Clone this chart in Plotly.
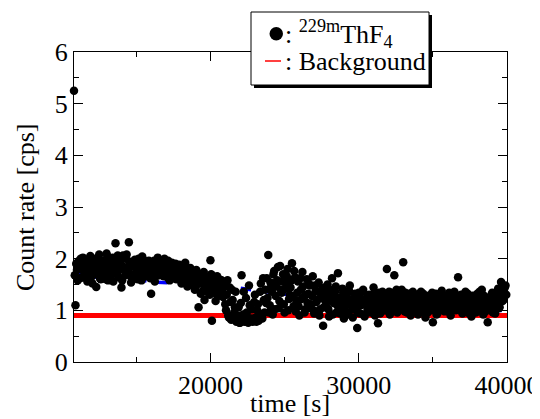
import plotly.graph_objects as go

# ---- data ----
time_s = [
    10800, 10900, 11000, 11100, 11200, 11300, 11400, 11500, 11600, 11700,
    11800, 11900, 12000, 12100, 12200, 12300, 12400, 12500, 12600, 12700,
    12800, 12900, 13000, 13100, 13200, 13300, 13400, 13500, 13600, 13700,
    13800, 13900, 14000, 14100, 14200, 14300, 14400, 14500, 14600, 14700,
    14800, 14900, 15000, 15100, 15200, 15300, 15400, 15500, 15600, 15700,
    15800, 15900, 16000, 16100, 16200, 16300, 16400, 16500, 16600, 16700,
    16800, 16900, 17000, 17100, 17200, 17300, 17400, 17500, 17600, 17700,
    17800, 17900, 18000, 18100, 18200, 18300, 18400, 18500, 18600, 18700,
    18800, 18900, 19000, 19100, 19200, 19300, 19400, 19500, 19600, 19700,
    19800, 19900, 20000, 20100, 20200, 20300, 20400, 20500, 20600, 20700,
    20800, 20900, 21000, 21100, 21200, 21300, 21400, 21500, 21600, 21700,
    21800, 21900, 22000, 22100, 22200, 22300, 22400, 22500, 22600, 22700,
    22800, 22900, 23000, 23100, 23200, 23300, 23400, 23500, 23600, 23700,
    23800, 23900, 24000, 24100, 24200, 24300, 24400, 24500, 24600, 24700,
    24800, 24900, 25000, 25100, 25200, 25300, 25400, 25500, 25600, 25700,
    25800, 25900, 26000, 26100, 26200, 26300, 26400, 26500, 26600, 26700,
    26800, 26900, 27000, 27100, 27200, 27300, 27400, 27500, 27600, 27700,
    27800, 27900, 28000, 28100, 28200, 28300, 28400, 28500, 28600, 28700,
    28800, 28900, 29000, 29100, 29200, 29300, 29400, 29500, 29600, 29700,
    29800, 29900, 30000, 30100, 30200, 30300, 30400, 30500, 30600, 30700,
    30800, 30900, 31000, 31100, 31200, 31300, 31400, 31500, 31600, 31700,
    31800, 31900, 32000, 32100, 32200, 32300, 32400, 32500, 32600, 32700,
    32800, 32900, 33000, 33100, 33200, 33300, 33400, 33500, 33600, 33700,
    33800, 33900, 34000, 34100, 34200, 34300, 34400, 34500, 34600, 34700,
    34800, 34900, 35000, 35100, 35200, 35300, 35400, 35500, 35600, 35700,
    35800, 35900, 36000, 36100, 36200, 36300, 36400, 36500, 36600, 36700,
    36800, 36900, 37000, 37100, 37200, 37300, 37400, 37500, 37600, 37700,
    37800, 37900, 38000, 38100, 38200, 38300, 38400, 38500, 38600, 38700,
    38800, 38900, 39000, 39100, 39200, 39300, 39400, 39500, 39600, 39700,
    39800, 39900,
]

count_rate = [
    5.25, 1.10, 1.78, 1.95, 1.62, 1.88, 2.02, 1.70, 1.92, 1.56,
    1.84, 2.05, 1.66, 1.98, 1.74, 1.45, 1.90, 2.08, 1.60, 1.82,
    1.72, 1.96, 2.10, 1.58, 1.86, 1.68, 2.02, 1.76, 2.30, 1.92,
    1.64, 1.88, 1.44, 2.06, 1.80, 2.00, 1.70, 2.32, 1.94, 1.62,
    1.86, 1.98, 1.74, 1.60, 1.90, 1.82, 2.04, 1.68, 1.78, 1.94,
    1.72, 1.88, 1.32, 1.80, 1.96, 1.66, 1.84, 1.76, 1.90, 1.70,
    1.82, 2.00, 1.74, 1.64, 1.86, 1.78, 1.92, 1.70, 1.84, 1.60,
    1.76, 1.88, 1.66, 1.56, 1.72, 1.92, 1.62, 1.80, 1.50, 1.70,
    1.58, 1.74, 1.44, 1.66, 1.06, 1.52, 1.70, 1.38, 1.20, 1.62,
    1.48, 1.64, 1.97, 0.80, 1.34, 1.56, 1.42, 1.28, 1.60, 1.50,
    1.38, 1.52, 1.12, 1.30, 0.90, 1.44, 0.82, 1.20, 0.96, 1.36,
    0.80, 1.06, 0.76, 1.68, 0.92, 0.78, 1.24, 0.86, 1.48, 0.80,
    1.02, 0.82, 1.30, 0.78, 1.12, 0.94, 1.52, 0.84, 1.20, 1.40,
    1.62, 2.07, 1.10, 1.46, 0.92, 1.76, 1.28, 1.58, 1.04, 1.86,
    1.34, 1.70, 0.96, 1.52, 1.80, 1.22, 1.44, 1.91, 1.08, 1.64,
    1.18, 1.56, 0.90, 1.40, 1.74, 1.26, 1.02, 1.60, 1.32, 1.48,
    1.12, 1.66, 0.94, 1.38, 1.20, 1.54, 1.02, 1.30, 0.70, 1.44,
    1.08, 1.50, 0.88, 1.26, 1.62, 1.14, 1.36, 0.96, 1.72, 1.22,
    1.00, 1.42, 0.84, 1.18, 1.30, 0.92, 1.48, 1.10, 0.86, 1.24,
    1.06, 0.66, 1.34, 0.94, 1.16, 1.40, 0.88, 1.22, 1.02, 1.30,
    0.96, 1.20, 1.44, 0.90, 1.10, 0.75, 1.28, 1.02, 1.36, 1.14,
    1.00, 1.80, 1.24, 0.92, 1.34, 1.08, 1.68, 1.16, 0.96, 1.30,
    1.12, 1.40, 1.93, 0.98, 1.22, 1.06, 1.32, 0.90, 1.18, 1.26,
    1.04, 1.30, 0.92, 1.16, 1.36, 1.00, 1.22, 0.86, 1.12, 1.28,
    1.10, 1.24, 0.77, 1.02, 1.32, 0.94, 1.18, 1.06, 1.38, 1.14,
    0.98, 1.26, 1.08, 1.34, 0.90, 1.16, 1.20, 1.02, 1.12, 1.64,
    1.06, 1.30, 0.94, 1.18, 1.36, 1.00, 1.22, 1.10, 0.88, 1.28,
    1.14, 0.96, 1.32, 1.04, 1.24, 1.40, 0.92, 1.16, 1.08, 0.77,
    1.20, 1.02, 1.34, 1.10, 0.94, 1.28, 1.42, 1.06, 1.55, 1.18,
    1.36, 1.48,
]

# interleaved measurements (half-step later)
time_s_b = [
    10850, 10950, 11050, 11150, 11250, 11350, 11450, 11550, 11650, 11750,
    11850, 11950, 12050, 12150, 12250, 12350, 12450, 12550, 12650, 12750,
    12850, 12950, 13050, 13150, 13250, 13350, 13450, 13550, 13650, 13750,
    13850, 13950, 14050, 14150, 14250, 14350, 14450, 14550, 14650, 14750,
    14850, 14950, 15050, 15150, 15250, 15350, 15450, 15550, 15650, 15750,
    15850, 15950, 16050, 16150, 16250, 16350, 16450, 16550, 16650, 16750,
    16850, 16950, 17050, 17150, 17250, 17350, 17450, 17550, 17650, 17750,
    17850, 17950, 18050, 18150, 18250, 18350, 18450, 18550, 18650, 18750,
    18850, 18950, 19050, 19150, 19250, 19350, 19450, 19550, 19650, 19750,
    19850, 19950, 20050, 20150, 20250, 20350, 20450, 20550, 20650, 20750,
    20850, 20950, 21050, 21150, 21250, 21350, 21450, 21550, 21650, 21750,
    21850, 21950, 22050, 22150, 22250, 22350, 22450, 22550, 22650, 22750,
    22850, 22950, 23050, 23150, 23250, 23350, 23450, 23550, 23650, 23750,
    23850, 23950, 24050, 24150, 24250, 24350, 24450, 24550, 24650, 24750,
    24850, 24950, 25050, 25150, 25250, 25350, 25450, 25550, 25650, 25750,
    25850, 25950, 26050, 26150, 26250, 26350, 26450, 26550, 26650, 26750,
    26850, 26950, 27050, 27150, 27250, 27350, 27450, 27550, 27650, 27750,
    27850, 27950, 28050, 28150, 28250, 28350, 28450, 28550, 28650, 28750,
    28850, 28950, 29050, 29150, 29250, 29350, 29450, 29550, 29650, 29750,
    29850, 29950, 30050, 30150, 30250, 30350, 30450, 30550, 30650, 30750,
    30850, 30950, 31050, 31150, 31250, 31350, 31450, 31550, 31650, 31750,
    31850, 31950, 32050, 32150, 32250, 32350, 32450, 32550, 32650, 32750,
    32850, 32950, 33050, 33150, 33250, 33350, 33450, 33550, 33650, 33750,
    33850, 33950, 34050, 34150, 34250, 34350, 34450, 34550, 34650, 34750,
    34850, 34950, 35050, 35150, 35250, 35350, 35450, 35550, 35650, 35750,
    35850, 35950, 36050, 36150, 36250, 36350, 36450, 36550, 36650, 36750,
    36850, 36950, 37050, 37150, 37250, 37350, 37450, 37550, 37650, 37750,
    37850, 37950, 38050, 38150, 38250, 38350, 38450, 38550, 38650, 38750,
    38850, 38950, 39050, 39150, 39250, 39350, 39450, 39550, 39650, 39750,
    39850, 39950,
]

count_rate_b = [
    1.68, 1.90, 1.58, 1.80, 2.00, 1.64, 1.84, 1.74, 1.98, 1.66,
    1.76, 1.92, 1.52, 1.86, 2.00, 1.70, 1.80, 1.62, 1.96, 1.74,
    1.84, 1.60, 2.04, 1.78, 1.66, 1.94, 1.56, 1.88, 1.72, 2.06,
    1.78, 1.96, 1.58, 1.84, 1.68, 2.08, 1.76, 1.90, 1.54, 1.86,
    1.70, 1.92, 1.64, 2.00, 1.76, 1.58, 1.88, 1.96, 1.66, 1.82,
    1.96, 1.62, 1.78, 1.90, 1.56, 1.84, 2.02, 1.68, 1.80, 1.94,
    1.66, 1.88, 1.76, 1.96, 1.58, 1.72, 1.84, 1.62, 1.90, 1.74,
    1.64, 1.80, 1.52, 1.84, 1.60, 1.74, 1.46, 1.68, 1.82, 1.56,
    1.66, 1.40, 1.78, 1.54, 1.62, 1.32, 1.58, 1.74, 1.46, 1.36,
    1.56, 1.30, 1.70, 1.44, 1.52, 1.18, 1.66, 1.40, 1.32, 1.58,
    1.26, 1.46, 1.00, 1.58, 0.86, 1.16, 1.40, 0.84, 1.06, 0.78,
    0.90, 0.76, 1.14, 0.82, 1.36, 0.80, 0.96, 0.76, 1.10, 0.84,
    0.78, 1.16, 0.86, 1.00, 0.80, 1.36, 0.90, 1.62, 0.96, 1.14,
    1.24, 0.96, 1.54, 1.36, 1.70, 1.02, 1.46, 1.84, 1.18, 1.40,
    1.56, 1.12, 1.42, 1.66, 1.00, 1.30, 1.58, 1.26, 1.76, 0.98,
    1.34, 1.08, 1.62, 1.22, 1.46, 0.96, 1.30, 1.14, 1.52, 1.04,
    1.28, 1.00, 1.48, 1.16, 1.36, 0.90, 1.24, 1.42, 1.06, 1.18,
    1.32, 1.02, 1.40, 1.18, 0.92, 1.28, 1.46, 1.10, 1.24, 0.94,
    1.16, 1.34, 1.04, 1.26, 0.96, 1.38, 1.12, 1.20, 1.02, 1.32,
    1.18, 0.96, 1.28, 1.10, 1.36, 0.92, 1.14, 1.24, 1.04, 1.20,
    1.12, 1.30, 0.98, 1.22, 1.06, 1.34, 0.94, 1.16, 1.26, 1.00,
    1.20, 1.06, 1.36, 1.14, 0.98, 1.26, 1.10, 1.40, 1.04, 1.18,
    1.02, 1.24, 1.10, 1.34, 0.96, 1.18, 1.28, 1.06, 1.36, 1.00,
    1.20, 1.08, 1.28, 0.98, 1.14, 1.32, 1.04, 1.24, 0.96, 1.18,
    1.00, 1.34, 1.12, 1.20, 0.92, 1.26, 1.08, 1.30, 1.00, 1.22,
    1.14, 1.04, 1.30, 0.96, 1.24, 1.08, 1.36, 1.00, 1.28, 1.10,
    1.20, 0.98, 1.26, 1.08, 1.14, 1.32, 0.94, 1.24, 1.04, 1.18,
    1.06, 1.26, 1.00, 1.36, 1.12, 1.02, 1.28, 0.98, 1.22, 1.10,
    1.10, 1.30, 0.96, 1.24, 1.16, 1.36, 1.04, 1.26, 1.40, 1.20,
    1.44, 1.30,
]

trend_time = [10800, 12000, 15000, 16000, 17500, 21500, 22500, 25000,
              26000, 29000, 30300, 31400, 34900, 37400, 40000]
trend_rate = [1.75, 1.65, 1.60, 1.55, 1.53, 1.45, 1.41, 1.31,
              1.30, 1.26, 1.20, 1.16, 1.03, 1.04, 0.99]

background_time = [10800, 40000]
background_rate = [0.9, 0.9]

x_ticks = [20000, 30000, 40000]
y_ticks = [0, 1, 2, 3, 4, 5, 6]

FONT = "Liberation Serif, Times New Roman, serif"

fig = go.Figure()
fig.add_trace(go.Scatter(x=background_time, y=background_rate, mode="lines",
                         line=dict(color="#ff0000", width=5), showlegend=False))
fig.add_trace(go.Scatter(x=trend_time, y=trend_rate, mode="lines",
                         line=dict(color="#0000ff", width=3.5, dash="dash"),
                         showlegend=False))
fig.add_trace(go.Scatter(x=time_s + time_s_b, y=count_rate + count_rate_b,
                         mode="markers",
                         marker=dict(color="black", size=8.5, line=dict(width=0)),
                         showlegend=False, cliponaxis=False))

# page body has an 8px margin; screen plot area x 74..507, y 52..362
OFF = 8
L, R, T, B = 74 - OFF, 507 - OFF, 52 - OFF, 362 - OFF
W, H = R - L, B - T
def px(x):
    return (x - OFF - L) / W
def py(y):
    return (B - (y - OFF)) / H

shapes = [
    dict(type="rect", xref="paper", yref="paper", x0=px(254), x1=px(432),
         y0=py(88), y1=py(15), fillcolor="black", line=dict(width=0), layer="above"),
    dict(type="rect", xref="paper", yref="paper", x0=px(251), x1=px(429),
         y0=py(85), y1=py(12), fillcolor="white", line=dict(color="black", width=1),
         layer="above"),
    dict(type="circle", xref="paper", yref="paper", x0=px(269.5), x1=px(283),
         y0=py(40.5), y1=py(27), fillcolor="black", line=dict(width=0), layer="above"),
    dict(type="line", xref="paper", yref="paper", x0=px(265), x1=px(281),
         y0=py(61), y1=py(61), line=dict(color="#ff0000", width=1.5), layer="above"),
]

text_font = dict(family=FONT, size=26, color="black")
annotations = [
    dict(text=": <sup>229m</sup>ThF<sub>4</sub>", xref="paper", yref="paper",
         x=px(283), y=py(34), xanchor="left", yanchor="middle", showarrow=False,
         font=text_font),
    dict(text=": Background", xref="paper", yref="paper",
         x=px(283), y=py(62), xanchor="left", yanchor="middle", showarrow=False,
         font=text_font),
    # axis titles
    dict(text="time [s]", xref="paper", yref="paper",
         x=px(290), y=py(403), xanchor="center", yanchor="middle", showarrow=False,
         font=text_font),
    dict(text="Count rate [cps]", xref="paper", yref="paper", textangle=-90,
         x=px(25), y=py(207), xanchor="center", yanchor="middle", showarrow=False,
         font=text_font),
]

axis_common = dict(
    showline=True, linecolor="black", linewidth=1, mirror="ticks",
    ticks="inside", ticklen=9, tickwidth=1, tickcolor="black",
    showgrid=False, zeroline=False, automargin=False,
    tickfont=dict(family=FONT, size=26, color="black"),
)

fig.update_layout(
    width=540, height=419,
    margin=dict(l=L, r=540 - R, t=T, b=419 - B),
    paper_bgcolor="white", plot_bgcolor="white",
    font=dict(family=FONT, size=26, color="black"),
    showlegend=False,
    shapes=shapes, annotations=annotations,
    xaxis=dict(range=[10800, 40000], tickvals=x_ticks,
               ticktext=[str(v) for v in x_ticks],
               minor=dict(ticks="inside", ticklen=5, tickcolor="black",
                          tickvals=[15000, 25000, 35000]),
               **axis_common),
    yaxis=dict(range=[0, 6], tickvals=y_ticks,
               minor=dict(ticks="inside", ticklen=5, tickcolor="black",
                          tickvals=[0.5, 1.5, 2.5, 3.5, 4.5, 5.5]),
               **axis_common),
)

fig.write_html("out.html")
